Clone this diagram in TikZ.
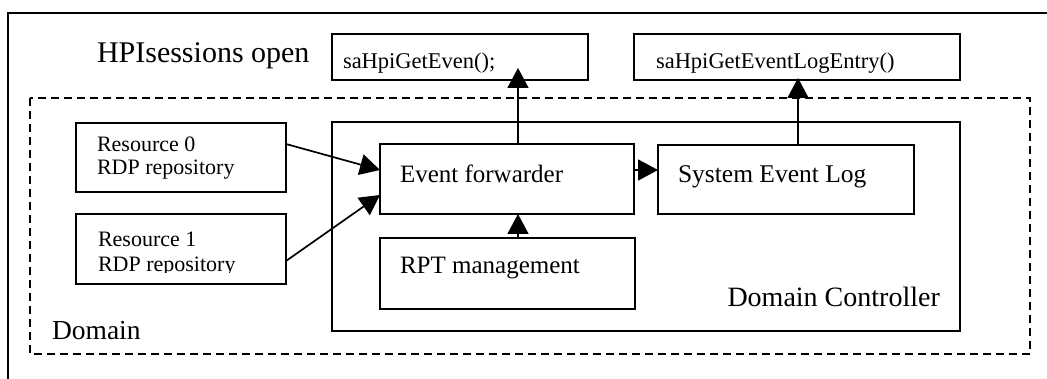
\documentclass[tikz,border=0pt]{standalone}
\usepackage{fontspec}
\setmainfont{Liberation Serif}
\usetikzlibrary{arrows.meta}
\begin{document}
\begin{tikzpicture}[x=1pt,y=-1pt,
  box/.style={draw, line width=1.7pt, inner sep=0pt, outer sep=0pt},
  lbl/.style={inner sep=0pt, outer sep=0pt, anchor=base west},
  arr/.style={line width=1.7pt, -{Triangle[length=20pt,width=21pt]}},
  domainline/.style={line width=1.5pt, dash pattern=on 8pt off 5pt}]
\clip (0,0) rectangle (1047,379);

% outer session frame (continues past the page edges)
\draw[line width=1.7pt] (8,395) -- (8,13) -- (1060,13);
\node[lbl, font=\fontsize{30}{34}\selectfont] (sess) at (97,63) {HPIsessions open};

% API call boxes
\node[box, minimum width=256pt, minimum height=46pt] (get) at (460,57) {};
\node[lbl, font=\fontsize{22.5}{26}\selectfont] (gettxt) at (343,69) {saHpiGetEven();};
\node[box, minimum width=326pt, minimum height=46pt] (log) at (797,57) {};
\node[lbl, font=\fontsize{22.5}{26}\selectfont] (logtxt) at (656,69) {saHpiGetEventLogEntry()};

% domain
\draw[domainline] (30,98) rectangle (1030,354);
\node[lbl, font=\fontsize{27.5}{31}\selectfont] (dom) at (52,340) {Domain};

% resources
\node[box, minimum width=210pt, minimum height=69pt] (r0) at (181,157.5) {};
\node[lbl, font=\fontsize{22}{25}\selectfont] (r0a) at (97,152) {Resource 0};
\node[lbl, font=\fontsize{22}{25}\selectfont] (r0b) at (97,175) {RDP repository};
\node[box, minimum width=210pt, minimum height=70pt] (r1) at (181,249) {};
\node[lbl, font=\fontsize{22}{25}\selectfont] (r1a) at (98,247) {Resource 1};
\begin{scope}
  \clip (76,214) rectangle (286,273);
  \node[lbl, font=\fontsize{22}{25}\selectfont] (r1b) at (98,272) {RDP repository};
\end{scope}

% domain controller
\node[box, minimum width=628pt, minimum height=209pt] (dc) at (646,226.5) {};
\node[inner sep=0pt, anchor=base east, font=\fontsize{28}{32}\selectfont] (dctxt) at (940,307) {Domain Controller};

\node[box, minimum width=254pt, minimum height=70pt] (ef) at (507,179) {};
\node[lbl, font=\fontsize{25}{29}\selectfont] (eftxt) at (400,183) {Event forwarder};
\node[box, minimum width=256pt, minimum height=69pt] (sel) at (786,179.5) {};
\node[lbl, font=\fontsize{25.5}{29}\selectfont] (seltxt) at (678,183) {System Event Log};
\node[box, minimum width=255pt, minimum height=71pt] (rpt) at (507.5,273.5) {};
\node[lbl, font=\fontsize{25}{29}\selectfont] (rpttxt) at (400,274) {RPT management};

% connectors
\draw[arr] ([yshift=13.5pt]r0.east) -- ([yshift=9pt]ef.west);
\draw[arr] ([yshift=-12pt]r1.east) -- ([yshift=-16pt]ef.west);
\draw[arr] ([yshift=9pt]ef.east) -- ([yshift=9.5pt]sel.west);
\draw[arr] ([xshift=10.5pt]rpt.north) -- ([xshift=11pt]ef.south);
\draw[arr] ([xshift=11pt]ef.north) -- ([xshift=58pt,yshift=12pt]get.south);
\draw[arr] ([xshift=12pt]sel.north) -- ([xshift=1pt,yshift=2pt]log.south);
\end{tikzpicture}
\end{document}
